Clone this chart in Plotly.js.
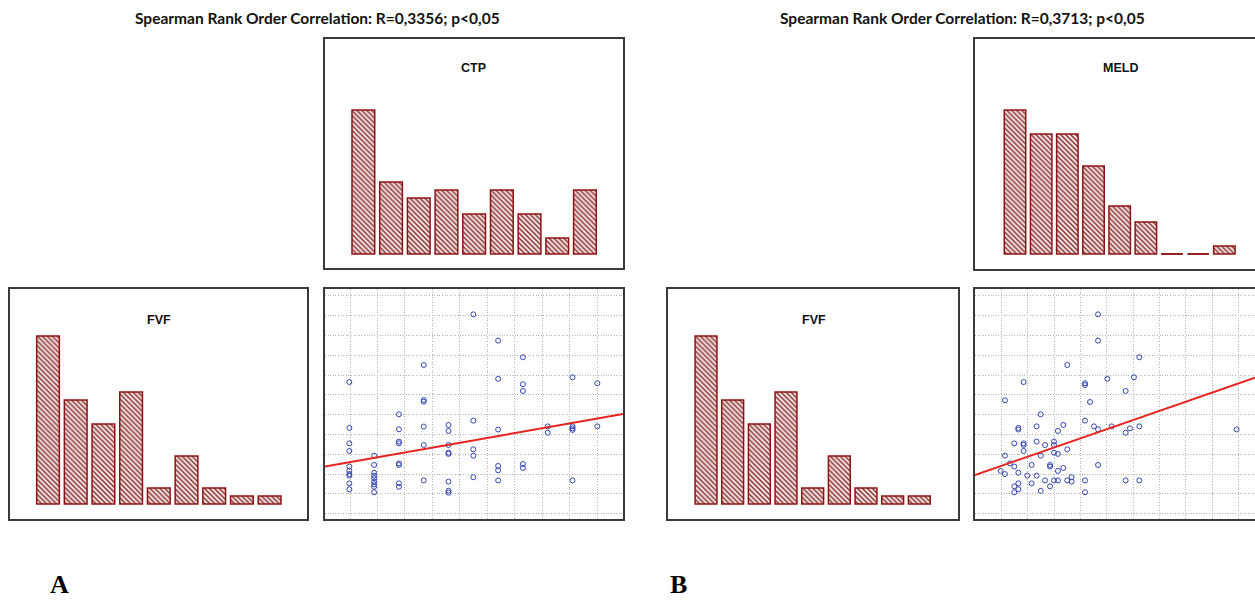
<!DOCTYPE html>
<html>
<head>
<meta charset="utf-8">
<script src="https://cdn.plot.ly/plotly-3.0.1.min.js"></script>
<style>html,body{margin:0;padding:0;background:#fff;}#chart{width:1255px;height:600px;}</style>
</head>
<body>
<div id="chart"></div>
<script>
// ---------------- DATA ----------------
const bins = [1, 2, 3, 4, 5, 6, 7, 8, 9];
const fvfCounts = [21, 13, 10, 14, 2, 6, 2, 1, 1];
const ctpCounts = [18, 9, 7, 8, 5, 8, 5, 2, 8];
const meldCounts = [18, 15, 15, 11, 6, 4, 0, 0, 1];

// Panel A scatter: CTP (x) vs FVF (y, arbitrary units)
const ctpX = [
  5,5,5,5,5,5,5,5,5,5,
  6,6,6,6,6,6,6,6,6,
  7,7,7,7,7,7,7,7,
  8,8,8,8,8,8,
  9,9,9,9,9,9,9,9,
  10,10,10,10,10,
  11,11,11,11,11,11,
  12,12,12,12,12,
  13,13,
  14,14,14,14,14,
  15,15
];
const ctpFvfY = [
  6.65,4.33,3.55,3.17,2.38,2.17,2.00,1.92,1.53,1.23,
  2.93,2.46,2.07,1.92,1.79,1.62,1.48,1.36,1.08,
  5.02,4.26,3.64,3.55,2.54,2.46,1.53,1.36,
  7.51,5.74,5.66,4.40,3.47,1.68,
  4.48,4.18,3.47,3.08,3.02,1.62,1.16,1.06,
  10.07,4.70,3.25,2.93,1.84,
  8.74,6.81,4.25,2.41,2.19,1.68,
  7.90,6.54,6.20,2.51,2.31,
  4.41,4.09,
  6.89,4.41,4.31,4.23,1.68,
  6.59,4.41
];

// Panel B scatter: MELD (x) vs FVF (y, arbitrary units)
const meldX = [
  15.33,15.33,18.47,12.99,9.67,14.34,14.34,16.04,18.06,17.43,
  8.25,14.72,10.97,14.34,9.27,9.27,10.66,12.69,15.02,15.33,
  16.37,18.47,17.76,17.43,12.28,25.87,8.96,9.67,9.67,10.66,
  11.30,11.98,11.98,9.67,12.99,11.98,12.28,10.97,8.25,8.63,
  8.96,10.28,11.68,11.68,12.69,12.28,15.33,7.92,8.25,9.27,
  9.95,10.66,11.30,11.98,12.28,12.99,13.32,13.32,14.34,17.43,
  18.47,8.96,9.27,9.27,8.96,10.28,10.97,11.68,14.34
];
const meldFvfY = [
  10.07,8.74,7.90,7.51,6.65,6.59,6.50,6.81,6.89,6.20,
  5.73,5.64,5.02,4.70,4.33,4.25,4.41,4.48,4.41,4.26,
  4.41,4.41,4.31,4.09,4.18,4.26,3.55,3.55,3.47,3.64,
  3.47,3.64,3.47,3.17,3.25,3.08,3.02,2.93,2.93,2.54,
  2.38,2.46,2.46,2.38,2.31,2.16,2.46,2.16,2.00,2.07,
  1.92,1.92,1.68,1.68,1.68,1.68,1.84,1.62,1.68,1.68,
  1.68,1.38,1.53,1.23,1.08,1.53,1.15,1.38,1.08
];

// regression coefficients [intercept, slope]
const fitA = [1.485, 0.2215];
const fitB = [0.575, 0.2310];

const titleA = "Spearman Rank Order Correlation: R=0,3356; p<0,05";
const titleB = "Spearman Rank Order Correlation: R=0,3713; p<0,05";
const histTitles = ["FVF", "CTP", "FVF", "MELD"];
const panelLabels = ["A", "B"];

// ---------------- LAYOUT HELPERS ----------------
const W = 1255, H = 600;
const dx = (a, b) => [a / W, Math.min(1, b / W)];
const dy = (top, bottom) => [1 - bottom / H, 1 - top / H];
const px = x => x / W;
const py = y => 1 - y / H;

const frameColor = '#3a3a3a';
const barLine = '#8e1414';
const pattern = {shape: '\\', fgcolor: '#8a2a2a', bgcolor: '#f0e4e4', size: 3.5, solidity: 0.4};

function histTrace(counts, ax) {
  return {
    type: 'bar', x: bins, y: counts, width: 0.82,
    xaxis: 'x' + ax, yaxis: 'y' + ax,
    marker: {color: '#d8b8b8', pattern: pattern, line: {color: barLine, width: 1.5}},
    hoverinfo: 'skip', showlegend: false
  };
}

const scatterRangeA = [4.019, 16.035];
const scatterRangeB = [5.972, 27.27];
const scatterYRange = [-0.27, 11.35];

function fitLine(fit, range, ax) {
  return {
    type: 'scatter', mode: 'lines', x: range,
    y: range.map(v => fit[0] + fit[1] * v),
    xaxis: 'x' + ax, yaxis: 'y' + ax,
    line: {color: '#e8231f', width: 2}, hoverinfo: 'skip', showlegend: false
  };
}
function pts(xs, ys, ax) {
  return {
    type: 'scatter', mode: 'markers', x: xs, y: ys,
    xaxis: 'x' + ax, yaxis: 'y' + ax,
    marker: {symbol: 'circle-open', size: 5, color: '#3446b4', line: {width: 1, color: '#3446b4'}},
    hoverinfo: 'skip', showlegend: false
  };
}

const data = [
  histTrace(fvfCounts, ''),
  histTrace(ctpCounts, '2'),
  pts(ctpX, ctpFvfY, '3'),
  fitLine(fitA, scatterRangeA, '3'),
  histTrace(fvfCounts, '4'),
  histTrace(meldCounts, '5'),
  pts(meldX, meldFvfY, '6'),
  fitLine(fitB, scatterRangeB, '6')
];

function frameAxis(anchor, domain, range, extra) {
  return Object.assign({
    anchor: anchor, domain: domain, range: range, showline: true, mirror: true,
    linecolor: frameColor, linewidth: 2, showgrid: false, zeroline: false,
    showticklabels: false, ticks: '', fixedrange: true
  }, extra || {});
}
const gridOpts = (t0, dt) => ({showgrid: true, gridcolor: '#b5b5b5', griddash: '1px,1.6px', gridwidth: 1, tick0: t0, dtick: dt, tickmode: 'linear'});

const histY = [-1.875, 26.875];
const ctpY = [-1.75, 26.875];

// zero-count bins drawn as flat outline on the baseline
const shapes = [];
meldCounts.forEach((c, i) => {
  if (c === 0) {
    shapes.push({type: 'line', xref: 'x5', yref: 'y5', x0: bins[i] - 0.41, x1: bins[i] + 0.41, y0: 0, y1: 0,
      line: {color: barLine, width: 1.5}});
  }
});

const annFont = {family: 'Liberation Sans, Arial, sans-serif', size: 12.5, color: '#111'};
const titleFont = {family: 'Lato, Open Sans, sans-serif', size: 15.5, color: '#111'};
const labelFont = {family: 'Liberation Serif, Times New Roman, serif', size: 26, color: '#000'};

const annotations = [
  {text: '<b>' + titleA + '</b>', x: px(317), y: py(18), font: titleFont},
  {text: '<b>' + titleB + '</b>', x: px(962), y: py(18), font: titleFont},
  {text: '<b>' + histTitles[0] + '</b>', x: px(159), y: py(319.5), font: annFont},
  {text: '<b>' + histTitles[1] + '</b>', x: px(474), y: py(68.5), font: annFont},
  {text: '<b>' + histTitles[2] + '</b>', x: px(814), y: py(319.5), font: annFont},
  {text: '<b>' + histTitles[3] + '</b>', x: px(1120), y: py(68.5), font: annFont},
  {text: '<b>' + panelLabels[0] + '</b>', x: px(59), y: py(584), font: labelFont},
  {text: '<b>' + panelLabels[1] + '</b>', x: px(678), y: py(584), font: labelFont}
].map(a => Object.assign({xref: 'paper', yref: 'paper', showarrow: false, xanchor: 'center', yanchor: 'middle'}, a));

const layout = {
  width: W, height: H,
  margin: {l: 0, r: 0, t: 0, b: 0},
  paper_bgcolor: '#fff', plot_bgcolor: '#fff',
  showlegend: false, bargap: 0,
  xaxis: frameAxis('y', dx(10, 307), [-0.372, 10.35]),
  yaxis: frameAxis('x', dy(289, 519), histY),
  xaxis2: frameAxis('y2', dx(325, 623), [-0.385, 10.374]),
  yaxis2: frameAxis('x2', dy(39, 268), ctpY),
  xaxis3: frameAxis('y3', dx(325, 623), scatterRangeA, gridOpts(5.027, 1.108)),
  yaxis3: frameAxis('x3', dy(289, 519), scatterYRange, gridOpts(0, 1)),
  xaxis4: frameAxis('y4', dx(668, 958), [-0.425, 10.45]),
  yaxis4: frameAxis('x4', dy(289, 519), histY),
  xaxis5: frameAxis('y5', dx(975, 1255), [-0.528, 10.17]),
  yaxis5: frameAxis('x5', dy(39, 269), histY, {mirror: false}),
  xaxis6: frameAxis('y6', dx(975, 1255), scatterRangeB, gridOpts(8, 2)),
  yaxis6: frameAxis('x6', dy(289, 519), scatterYRange, Object.assign(gridOpts(0, 1), {mirror: false})),
  shapes: shapes,
  annotations: annotations
};

Plotly.newPlot('chart', data, layout, {staticPlot: true, displayModeBar: false});
</script>
</body>
</html>
